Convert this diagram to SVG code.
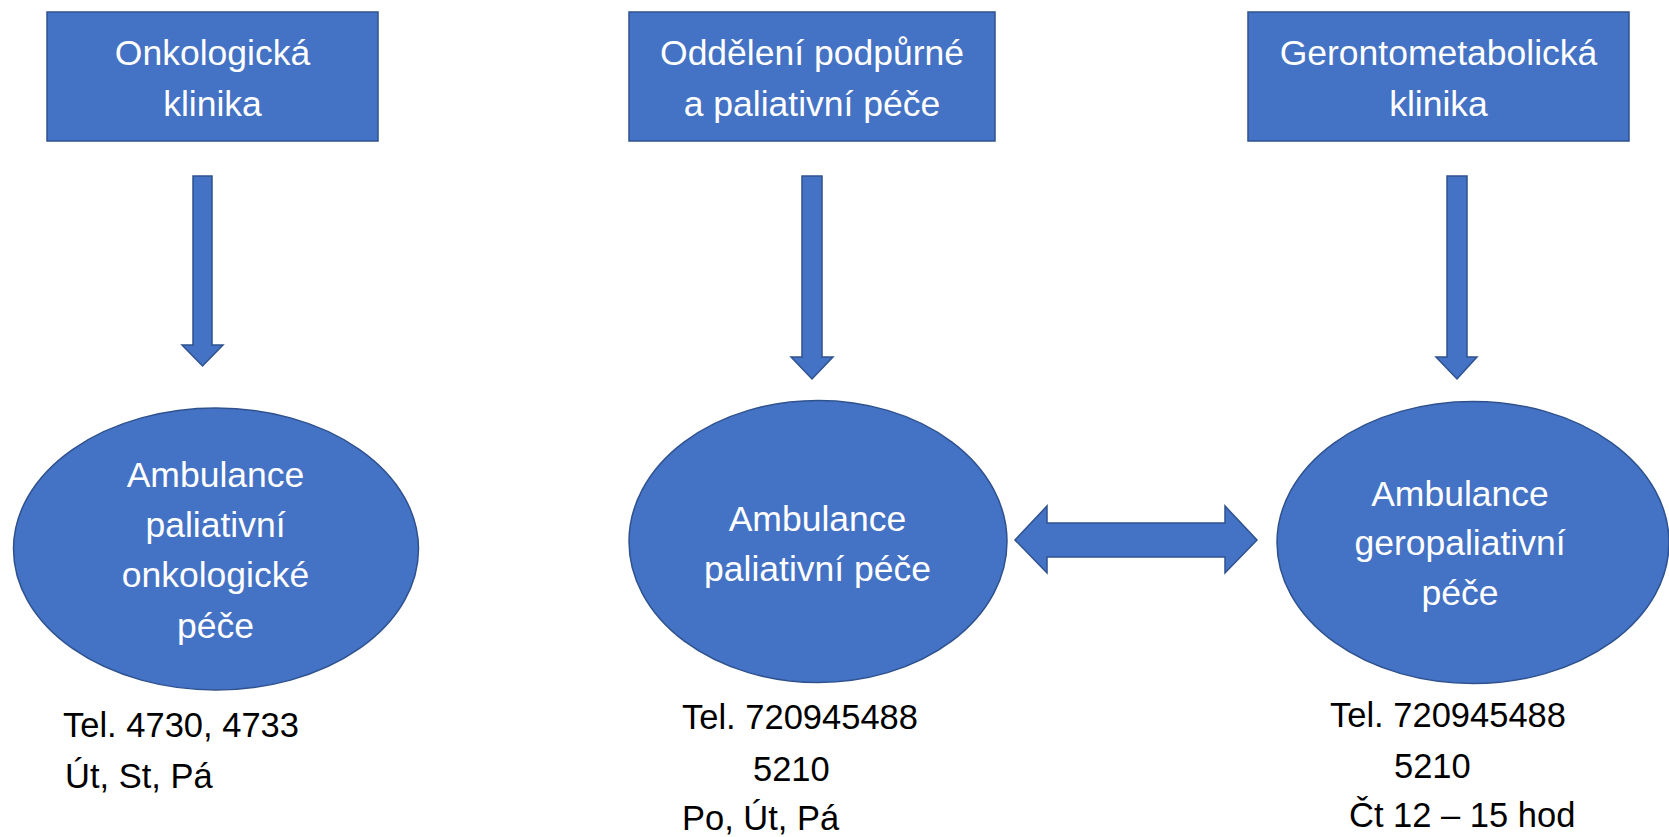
<svg xmlns="http://www.w3.org/2000/svg" width="1669" height="837" viewBox="0 0 1669 837">
<style>
.box{fill:#4472C4;stroke:#2F528F;stroke-width:1.5}
.wt{font-family:"Liberation Sans",Arial,sans-serif;font-size:35.5px;fill:#FFFFFF;text-anchor:middle}
.bt{font-family:"Liberation Sans",Arial,sans-serif;font-size:34.5px;fill:#000000}
</style>
<rect width="1669" height="837" fill="#FFFFFF"/>
<g id="onkologicka-klinika">
<rect class="box" x="47" y="12" width="331" height="129"/>
<text class="wt" x="212.5" y="65">Onkologická</text>
<text class="wt" x="212.5" y="116">klinika</text>
</g>
<g id="oddeleni">
<rect class="box" x="629" y="12" width="366" height="129"/>
<text class="wt" x="812" y="65">Oddělení podpůrné</text>
<text class="wt" x="812" y="116">a paliativní péče</text>
</g>
<g id="gerontometabolicka-klinika">
<rect class="box" x="1248" y="12" width="381" height="129"/>
<text class="wt" x="1438.5" y="65">Gerontometabolická</text>
<text class="wt" x="1438.5" y="116">klinika</text>
</g>
<g id="ambulance-onko">
<ellipse class="box" cx="216" cy="549" rx="202.5" ry="141"/>
<text class="wt" x="215.5" y="487">Ambulance</text>
<text class="wt" x="215.5" y="537">paliativní</text>
<text class="wt" x="215.5" y="587">onkologické</text>
<text class="wt" x="215.5" y="638">péče</text>
<text class="bt" x="63" y="737">Tel. 4730, 4733</text>
<text class="bt" x="65" y="788">Út, St, Pá</text>
</g>
<g id="ambulance-paliativni">
<ellipse class="box" cx="818" cy="541.5" rx="189" ry="141"/>
<text class="wt" x="817.5" y="531">Ambulance</text>
<text class="wt" x="817.5" y="581">paliativní péče</text>
<text class="bt" x="682" y="729">Tel. 720945488</text>
<text class="bt" x="753" y="781">5210</text>
<text class="bt" x="682" y="830">Po, Út, Pá</text>
</g>
<g id="ambulance-geropaliativni">
<ellipse class="box" cx="1473" cy="542.5" rx="196" ry="141"/>
<text class="wt" x="1460" y="506">Ambulance</text>
<text class="wt" x="1460" y="555">geropaliativní</text>
<text class="wt" x="1460" y="605">péče</text>
<text class="bt" x="1330" y="727">Tel. 720945488</text>
<text class="bt" x="1394" y="778">5210</text>
<text class="bt" x="1349" y="827">Čt 12 – 15 hod</text>
</g>
<g id="connectors">
<path class="box" d="M193,176 H212 V345 H223 L202.5,366 L182,345 H193 Z"/>
<path class="box" d="M802,176 H822 V357 H833 L812,379 L791,357 H802 Z"/>
<path class="box" d="M1447,176 H1467 V357 H1477 L1457,379 L1436,357 H1447 Z"/>
<path class="box" d="M1015,540 L1047,506 V523 H1225 V506 L1257,540 L1225,573 V557 H1047 V573 Z"/>
</g>
</svg>
